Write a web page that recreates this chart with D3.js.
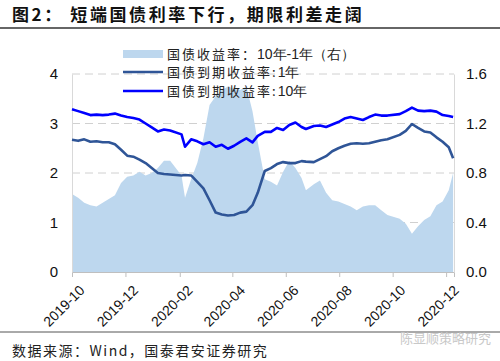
<!DOCTYPE html>
<html><head><meta charset="utf-8">
<script src="https://cdn.jsdelivr.net/npm/d3@7/dist/d3.min.js"></script>
<style>
body{margin:0;background:#fff;}
svg{display:block;}
</style></head>
<body>
<svg id="c" width="500" height="361"></svg>
<script>
const dates = ["2019-10-01","2019-10-08","2019-10-15","2019-10-22","2019-10-29","2019-11-05","2019-11-12","2019-11-19","2019-11-26","2019-12-03","2019-12-10","2019-12-17","2019-12-24","2019-12-31","2020-01-07","2020-01-14","2020-01-21","2020-02-03","2020-02-07","2020-02-14","2020-02-21","2020-02-28","2020-03-06","2020-03-13","2020-03-20","2020-03-27","2020-04-03","2020-04-10","2020-04-17","2020-04-24","2020-04-30","2020-05-08","2020-05-15","2020-05-22","2020-05-29","2020-06-05","2020-06-12","2020-06-19","2020-06-24","2020-07-03","2020-07-10","2020-07-17","2020-07-24","2020-07-31","2020-08-07","2020-08-14","2020-08-21","2020-08-28","2020-09-04","2020-09-11","2020-09-18","2020-09-25","2020-10-09","2020-10-16","2020-10-23","2020-10-30","2020-11-06","2020-11-13","2020-11-20","2020-11-27","2020-12-04","2020-12-09"];
const y10 = [3.29,3.25,3.21,3.17,3.18,3.17,3.18,3.20,3.16,3.13,3.11,3.08,3.00,2.92,2.84,2.88,2.86,2.78,2.53,2.68,2.64,2.58,2.62,2.53,2.57,2.49,2.55,2.63,2.70,2.62,2.75,2.83,2.83,2.91,2.87,2.97,3.02,2.93,2.89,2.95,2.96,2.93,2.98,3.03,3.10,3.13,3.10,3.07,3.13,3.18,3.16,3.16,3.19,3.25,3.32,3.26,3.25,3.26,3.24,3.17,3.15,3.13];
const y1 = [2.67,2.65,2.68,2.63,2.64,2.62,2.62,2.58,2.47,2.35,2.33,2.27,2.20,2.10,2.00,1.98,1.97,1.95,1.96,1.95,1.82,1.69,1.45,1.20,1.16,1.14,1.15,1.20,1.22,1.35,1.60,2.04,2.10,2.18,2.22,2.20,2.20,2.24,2.23,2.22,2.28,2.34,2.44,2.50,2.55,2.59,2.60,2.59,2.60,2.63,2.66,2.68,2.77,2.85,2.99,2.91,2.84,2.82,2.72,2.63,2.52,2.30];
const spread = [0.63,0.60,0.56,0.54,0.53,0.56,0.59,0.62,0.72,0.77,0.78,0.81,0.78,0.80,0.84,0.90,0.90,0.78,0.60,0.75,0.88,1.08,1.35,1.42,1.47,1.50,1.48,1.47,1.50,1.30,1.05,0.75,0.73,0.70,0.81,0.90,0.84,0.76,0.66,0.71,0.74,0.64,0.58,0.57,0.55,0.53,0.50,0.53,0.54,0.54,0.50,0.46,0.43,0.39,0.31,0.37,0.42,0.45,0.54,0.57,0.66,0.80];
const leftTicks = [0,1,2,3,4];
const rightTicks = [0,0.4,0.8,1.2,1.6];
const xTicks = ["2019-10","2019-12","2020-02","2020-04","2020-06","2020-08","2020-10","2020-12"];
const legendLabels = [["国债收益率：","10年-1年（右）"],["国债到期收益率:","1年"],["国债到期收益率:","10年"]];
const title = "图2：  短端国债利率下行，期限利差走阔";
const source = "数据来源：Wind，国泰君安证券研究";
const watermark = "陈显顺策略研究";

const parse = d3.timeParse("%Y-%m-%d");
const pm = d3.timeParse("%Y-%m");
const D = dates.map(parse);
const svg = d3.select("#c");
const L = 72, R = 454, T = 74, B = 272;
const x = d3.scaleTime().domain([parse("2019-10-01"), parse("2020-12-10")]).range([L, R]);
const yl = d3.scaleLinear().domain([0,4]).range([B,T]);
const yr = d3.scaleLinear().domain([0,1.6]).range([B,T]);
const cjk = "'Noto Sans CJK SC','Noto Sans',sans-serif";
const sans = "'Liberation Sans',Arial,sans-serif";

// title
svg.append("text").attr("x",12).attr("y",21).attr("font-family",cjk).attr("font-weight","bold")
  .attr("font-size",17).attr("letter-spacing","2.6px").attr("fill","#111").text(title);
svg.append("line").attr("x1",0).attr("x2",500).attr("y1",28).attr("y2",28).attr("stroke","#333").attr("stroke-width",1.5);

// grid
svg.append("g").selectAll("line").data(leftTicks.filter(d=>d>0)).join("line")
  .attr("x1",L).attr("x2",R).attr("y1",d=>yl(d)).attr("y2",d=>yl(d))
  .attr("stroke","#d0d0d0").attr("stroke-width",1).attr("stroke-dasharray","8,5");

// area
svg.append("path").datum(spread).attr("fill","#bdd7ee")
  .attr("d", d3.area().x((d,i)=>x(D[i])).y0(B).y1(d=>yr(d)));

// axes
const gx = svg.append("g").attr("transform",`translate(0,${B})`)
  .call(d3.axisBottom(x).tickValues(xTicks.map(pm)).tickSize(5).tickFormat(d3.timeFormat("%Y-%m")));
gx.select(".domain").attr("stroke","#bfbfbf");
gx.selectAll(".tick line").attr("stroke","#bfbfbf");
gx.selectAll("text").attr("font-family",sans).attr("font-size",14).attr("fill","#111")
  .attr("text-anchor","end").attr("transform","translate(4,10) rotate(-45)").attr("dy","0.35em").attr("dx","0");

const gl = svg.append("g").attr("transform",`translate(${L},0)`)
  .call(d3.axisLeft(yl).tickValues(leftTicks).tickSize(0).tickPadding(14).tickFormat(d3.format("d")));
gl.select(".domain").attr("stroke","#d9d9d9");
gl.selectAll("text").attr("font-family",sans).attr("font-size",15).attr("fill","#111");

const gr = svg.append("g").attr("transform",`translate(${R},0)`)
  .call(d3.axisRight(yr).tickValues(rightTicks).tickSize(0).tickPadding(12).tickFormat(d3.format(".1f")));
gr.select(".domain").attr("stroke","#d9d9d9");
gr.selectAll("text").attr("font-family",sans).attr("font-size",15).attr("fill","#111");

// lines
const line = arr => d3.line().x((d,i)=>x(D[i])).y(d=>yl(d))(arr);
svg.append("path").attr("d",line(y1)).attr("fill","none").attr("stroke","#2f5597").attr("stroke-width",2.6).attr("stroke-linejoin","round");
svg.append("path").attr("d",line(y10)).attr("fill","none").attr("stroke","#0000ff").attr("stroke-width",2.6).attr("stroke-linejoin","round");

// legend
const lg = svg.append("g");
const ly = [54,72,91];
lg.append("rect").attr("x",123).attr("y",ly[0]-4).attr("width",40).attr("height",8).attr("fill","#bdd7ee");
lg.append("line").attr("x1",123).attr("x2",163).attr("y1",ly[1]).attr("y2",ly[1]).attr("stroke","#2f5597").attr("stroke-width",2.6);
lg.append("line").attr("x1",123).attr("x2",163).attr("y1",ly[2]).attr("y2",ly[2]).attr("stroke","#0000ff").attr("stroke-width",2.6);
legendLabels.forEach((p,i)=>{
  const t = lg.append("text").attr("x",167).attr("y",ly[i]+4.5).attr("font-size",13).attr("fill","#222");
  t.append("tspan").attr("font-family",cjk).attr("letter-spacing","2px").text(p[0]);
  t.append("tspan").attr("font-family",sans).attr("font-size",14).text(p[1]);
});

// footer
svg.append("line").attr("x1",0).attr("x2",500).attr("y1",332).attr("y2",332).attr("stroke","#555").attr("stroke-width",1);
svg.append("text").attr("x",12).attr("y",356).attr("font-family",cjk).attr("font-size",14)
  .attr("letter-spacing","1.5px").attr("fill","#222").text(source);
svg.append("text").attr("x",400).attr("y",343).attr("font-family",cjk).attr("font-size",13)
  .attr("fill","#c8c8c8").text(watermark);
</script>
</body></html>
